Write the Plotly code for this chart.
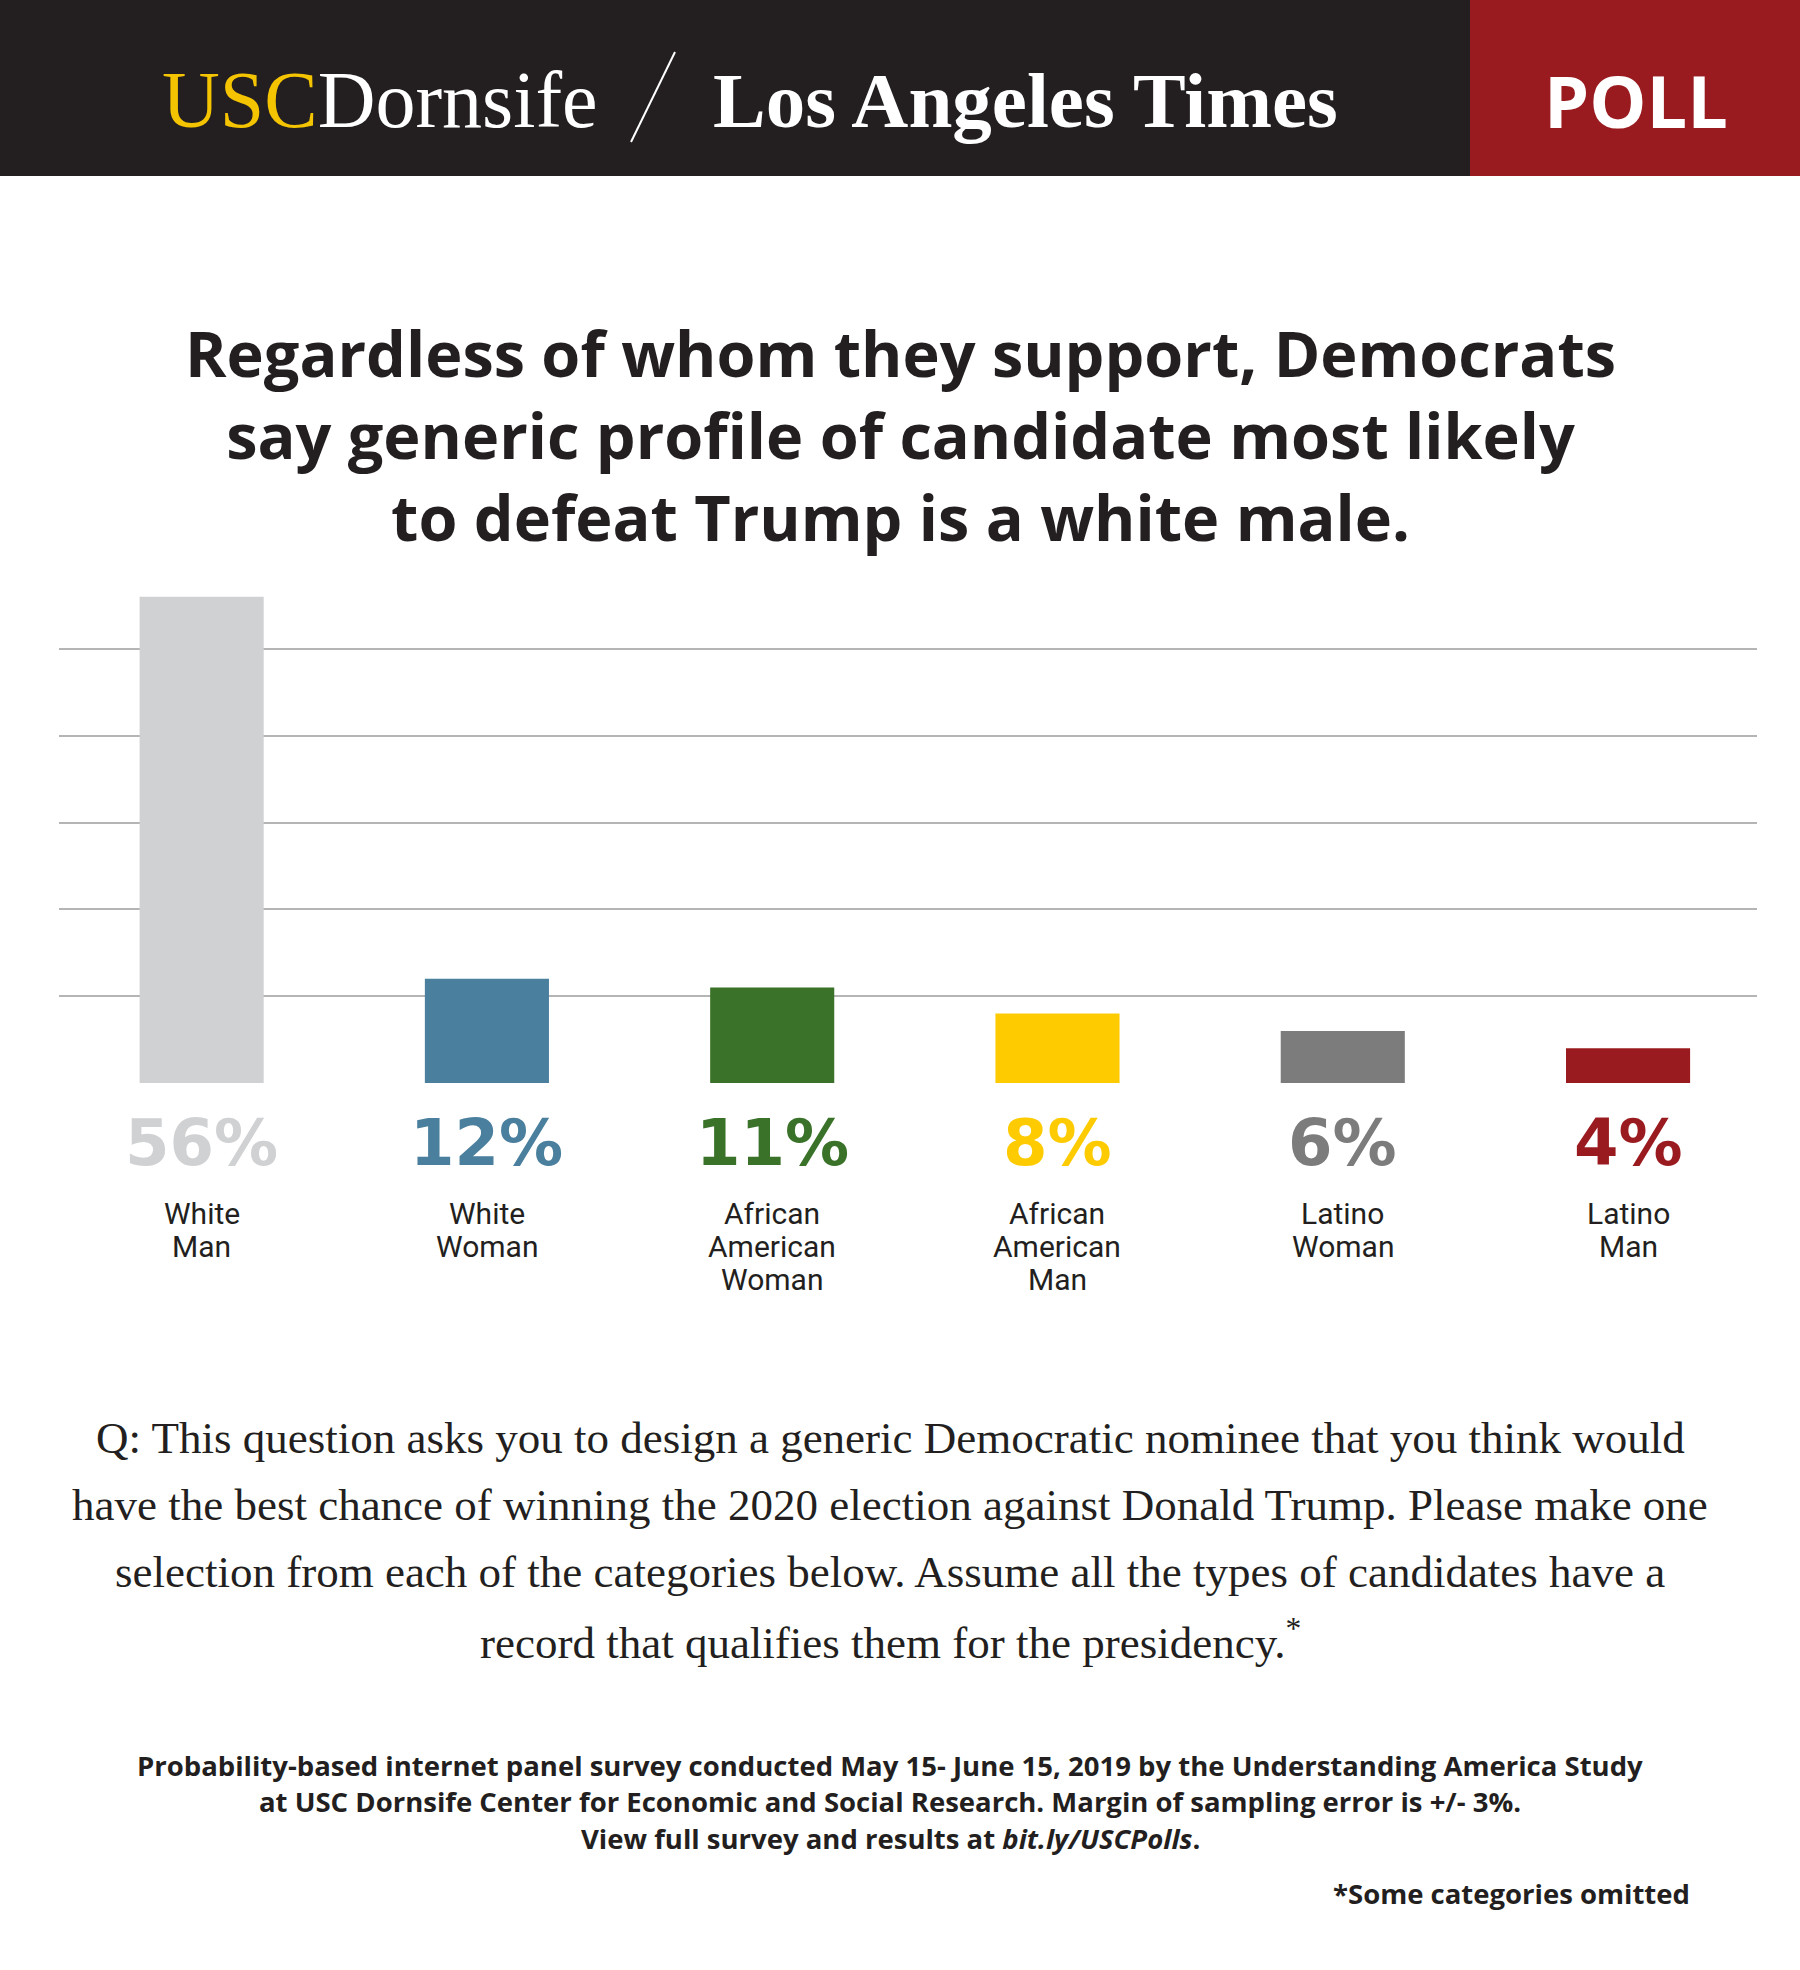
import plotly.graph_objects as go

# ---------------- data ----------------
categories = ["White<br>Man", "White<br>Woman", "African<br>American<br>Woman",
              "African<br>American<br>Man", "Latino<br>Woman", "Latino<br>Man"]
values = [56, 12, 11, 8, 6, 4]
value_labels = ["56%", "12%", "11%", "8%", "6%", "4%"]
bar_colors = ["#d0d1d3", "#4a7f9e", "#3a7229", "#fdcb00", "#7d7c7d", "#9a1b1f"]
grid_vals = [0, 10, 20, 30, 40, 50]

W, H = 1800, 1970
L, R = 59, 1757          # plot area x pixels
T, B = 562, 1083         # plot area y pixels
YMAX = 60
X0, X1 = -0.5, 5.452     # category axis range

def px(X):
    return (X - L) / (R - L)

def py(Y):
    return (B - Y) / (B - T)

INK = "#231f20"

fig = go.Figure()
fig.add_trace(go.Bar(
    x=list(range(len(values))), y=values, width=0.435,
    marker=dict(color=bar_colors, line=dict(width=0)),
    hoverinfo="skip",
))

shapes = [
    dict(type="rect", xref="paper", yref="paper", x0=px(0), x1=px(1470), y0=py(0), y1=py(176),
         fillcolor="#231f20", line=dict(width=0), layer="below"),
    dict(type="rect", xref="paper", yref="paper", x0=px(1470), x1=px(1800), y0=py(0), y1=py(176),
         fillcolor="#9a1b1f", line=dict(width=0), layer="below"),
    dict(type="line", xref="paper", yref="paper", x0=px(675), x1=px(631), y0=py(52), y1=py(142),
         line=dict(color="#ffffff", width=2)),
]

ann = []
ann.append(dict(text="<span style='color:#f5c400'>USC</span>Dornsife", x=px(380), y=py(100),
                xref="paper", yref="paper", showarrow=False, xanchor="center", yanchor="middle",
                font=dict(family="Liberation Serif", size=80, color="#ffffff")))
ann.append(dict(text="<b>Los Angeles Times</b>", x=px(1025), y=py(100),
                xref="paper", yref="paper", showarrow=False, xanchor="center", yanchor="middle",
                font=dict(family="Liberation Serif", size=79, color="#ffffff")))
ann.append(dict(text="<b>POLL</b>", x=px(1636), y=py(100),
                xref="paper", yref="paper", showarrow=False, xanchor="center", yanchor="middle",
                font=dict(family="Open Sans", size=72, color="#ffffff")))

def lines(texts, x, y0, step, font, anchor="center"):
    for i, t in enumerate(texts):
        ann.append(dict(text=t, x=px(x), y=py(y0 + i * step), xref="paper", yref="paper",
                        showarrow=False, xanchor=anchor, yanchor="middle", font=font))

# title (one block so lines share plotly's own line spacing)
ann.append(dict(text="<b>Regardless of whom they support, Democrats<br>"
                     "say generic profile of candidate most likely<br>"
                     "to defeat Trump is a white male.</b>",
                x=px(900), y=py(434), xref="paper", yref="paper", showarrow=False,
                xanchor="center", yanchor="middle", align="center",
                font=dict(family="Open Sans", size=63, color=INK)))

for i, (lab, col, cat) in enumerate(zip(value_labels, bar_colors, categories)):
    ann.append(dict(text="<b>" + lab + "</b>", x=i, xref="x", y=py(1143), yref="paper",
                    showarrow=False, xanchor="center", yanchor="middle",
                    font=dict(family="DejaVu Sans", size=64, color=col)))
    for j, part in enumerate(cat.split("<br>")):
        ann.append(dict(text=part, x=i, xref="x", y=py(1213 + j * 33), yref="paper", showarrow=False,
                        xanchor="center", yanchor="middle",
                        font=dict(family="Roboto", size=30, color=INK)))

lines(["Q: This question asks you to design a generic Democratic nominee that you think would",
       "have the best chance of winning the 2020 election against Donald Trump. Please make one",
       "selection from each of the categories below. Assume all the types of candidates have a",
       "record that qualifies them for the presidency.<sup>*</sup>"],
      890, 1438, 67, dict(family="Liberation Serif", size=45, color=INK))

lines(["<b>Probability-based internet panel survey conducted May 15- June 15, 2019 by the Understanding America Study</b>",
       "<b>at USC Dornsife Center for Economic and Social Research. Margin of sampling error is +/- 3%.</b>",
       "<b>View full survey and results at <i>bit.ly/USCPolls</i>.</b>"],
      890, 1765, 36.5, dict(family="Open Sans", size=27.5, color=INK))
lines(["<b>*Some categories omitted</b>"], 1692, 1893, 0,
      dict(family="Open Sans", size=27.5, color=INK), anchor="right")

fig.update_layout(
    width=W, height=H,
    margin=dict(l=L, r=W - R, t=T, b=H - B, pad=0),
    paper_bgcolor="#ffffff", plot_bgcolor="#ffffff",
    showlegend=False,
    shapes=shapes, annotations=ann,
    xaxis=dict(range=[X0, X1], showticklabels=False, showgrid=False,
               zeroline=False, showline=False, ticks="", fixedrange=True),
    yaxis=dict(range=[0, YMAX], tickvals=grid_vals, showticklabels=False, showgrid=True,
               gridcolor="#b5b5b5", gridwidth=2, zeroline=False, showline=False, ticks="",
               fixedrange=True),
)

fig.write_html("out.html")
